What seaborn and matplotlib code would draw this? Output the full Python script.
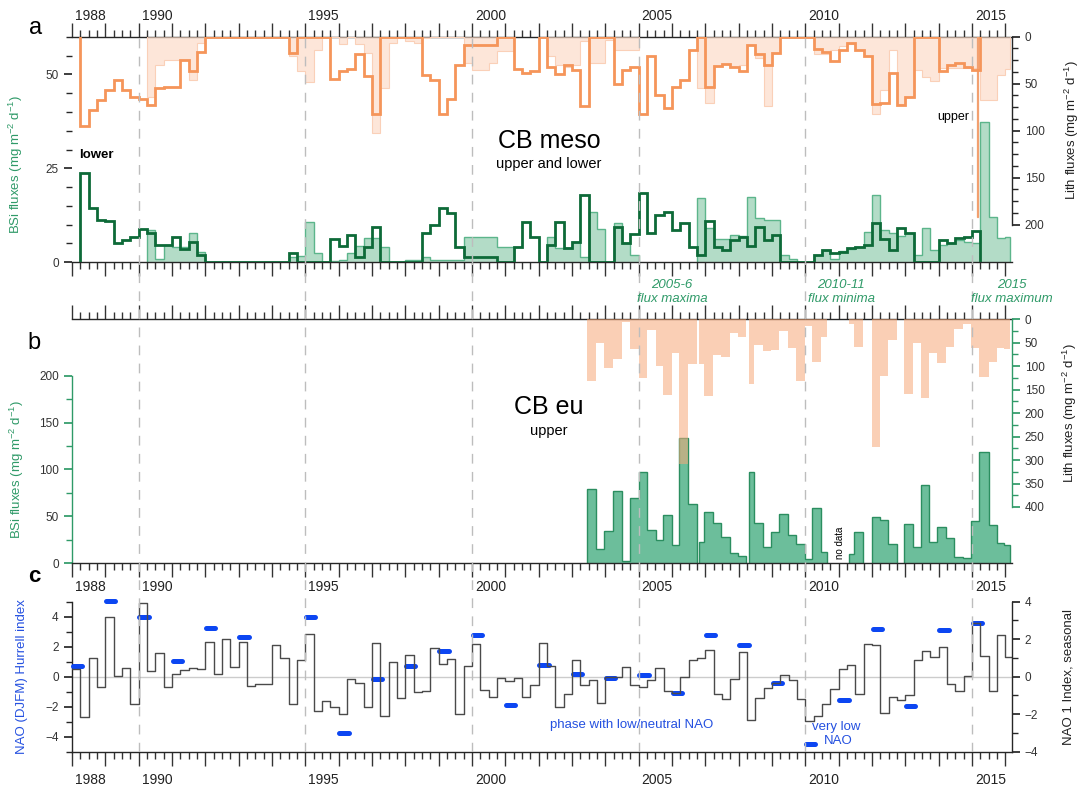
import numpy as np
import matplotlib
matplotlib.use("Agg")
import matplotlib.pyplot as plt
import matplotlib.transforms as mtrans
from matplotlib.ticker import MultipleLocator, NullFormatter, FixedLocator
import seaborn as sns

sns.set_theme(style="ticks")
plt.rcParams["font.family"] = ["Liberation Sans", "DejaVu Sans"]
plt.rcParams["mathtext.fontset"] = "custom"
plt.rcParams["mathtext.rm"] = "Liberation Sans"
plt.rcParams["mathtext.default"] = "regular"
plt.rcParams["axes.linewidth"] = 1.0

nan = np.nan

# ---------------------------------------------------------------- panel a
# quarterly bins 1988.0 ... 2016.0 (+ last partial bin to 2016.15)
a_edges = np.r_[np.arange(1988.0, 2016.01, 0.25), 2016.15]

# lower trap, lithogenic flux (mg m-2 d-1), 0 = gap drawn at baseline
meso_lith_lower = [
    nan, 95, 78, 67,   57, 46, 57, 64,   66, 73, 55, 54,   53, 25, 37, 16,   # 88-91
    0, 0, 0, 0,        0, 0, 0, 0,       0, 0, 17, 0,      0, 0, 0, 45,     # 92-95
    36, 34, 18, 42,    82, 0, 0, 0,      0, 0, 41, 46,     82, 66, 30, 9,   # 96-99
    9, 9, 9, 0,        0, 34, 39, 36,    0, 32, 40, 30,    35, 74, 0, 0,    # 00-03
    0, 50, 35, 32,     82, 21, 62, 76,   54, 46, 14, 0,    54, 31, 29, 32,  # 04-07
    37, 9, 18, 30,     17, 0, 0, 0,      0, 13, 16, 26,    14, 7, 14, 21,   # 08-11
    72, 70, 39, 73,    64, 0, 0, 0,      37, 30, 28, 32,   35, nan, nan, nan,  # 12-15
    nan,
]
# upper trap, lithogenic flux
meso_lith_upper = [
    nan, nan, nan, nan,  nan, nan, nan, nan,  nan, 64, 30, 25,   25, 25, 46, 7,
    nan, nan, nan, nan,  nan, nan, nan, nan,  nan, nan, 20, 37,  48, 14, 0, 0,
    8, 0, 8, 17,         102, 55, 7, nan,     5, 7, 1, 0,        0, 0, 0, 28,
    35, 35, 28, 15,      15, nan, nan, nan,   nan, 20, 30, 32,   30, 5, 28, 28,
    3, 14, 14, 14,       nan, nan, nan, nan,  nan, nan, nan, 55, 71, 31, 29, 32,
    30, 9, 23, 74,       17, 0, 0, nan,       nan, 18, 18, 14,   10, 8, 14, 21,
    82, 57, 14, 72,      64, 35, 43, 47,      33, 33, 33, 33,    33, 67, 67, 41,
    34,
]
# short upper-trap sample early 2015 (very high lith flux)
spike_edges = [2015.14, 2015.17]
spike_lith = [192]

# lower trap, biogenic silica flux
meso_bsi_lower = [
    nan, 23.7, 14.4, 11.3,  11, 5, 6, 6.6,      8.8, 7.7, 4.6, 4.6,  6.6, 3.5, 5.5, 2,
    0, 0, 0, 0,             0, 0, 0, 0,         0, 0, 2.5, 0,        0, 0, 0, 6.2,
    4.3, 7.2, 1.5, 4.2,     9.5, 0, 0, 0,       0, 0, 7.7, 9.9,      14.4, 13, 4.2, 1.5,
    1.5, 1.5, 1.5, 0,       0, 4, 10.8, 6.6,    0, 4.6, 10.8, 3.7,   5.3, 18, 0, 0,
    0, 9.5, 5, 7.5,         18.4, 7.7, 12.6, 13.5,  8.6, 10.5, 4.2, 2,  11, 4.2, 3.3, 5.9,
    6.8, 4.3, 9.5, 5.9,     7.3, 0, 0, 0,       0, 2, 3.3, 2.6,      2.8, 3.7, 4.2, 4.6,
    10.5, 6.1, 3.3, 9,      7.7, 0, 0, 0,       5.9, 5.2, 6.4, 6.6,  8.3, nan, nan, nan,
    nan,
]
# upper trap, biogenic silica flux
meso_bsi_upper = [
    nan, nan, nan, nan,   nan, nan, nan, nan,   nan, 8.6, 1, 4.6,    4.2, 4.2, 7.7, 2.8,
    nan, nan, nan, nan,   nan, nan, nan, nan,   nan, nan, 1.5, 1.7,  10.8, 2.4, 0.2, 0.3,
    0.5, 2.5, 4.3, 6.4,   6.4, 4.2, nan, nan,   0.6, 0.6, 1.5, 0.5,  0.5, 0.5, 0.5, 6.6,
    6.6, 6.6, 6.6, 4.2,   4.2, nan, nan, nan,   nan, 6.8, 3.7, 3.7,  5.5, 1.5, 13.3, 8.8,
    0.2, 10.5, 5, 2,      nan, nan, nan, nan,   nan, nan, nan, 17,   9, 6.1, 6.1, 7.3,
    7, 17.5, 11.7, 11.3,  11.3, 2, 1, nan,      nan, 2, 3.3, 1,      3, 3.5, 4.2, 8,
    17.9, 8.7, 7.7, 7,    7.7, 2, 9.2, 3.2,     4.5, 5, 6, 5.5,      5, 37.4, 12.1, 6.4,
    6.6,
]

# ---------------------------------------------------------------- panel b
eu_edges = [
    2003.46, 2003.72, 2003.97, 2004.22, 2004.49, 2004.74, 2005.01, 2005.26, 2005.51,
    2005.74, 2005.99, 2006.22, 2006.47, 2006.74, 2006.81, 2006.97, 2007.22, 2007.47,
    2007.74, 2007.97, 2008.22, 2008.32, 2008.47, 2008.72, 2008.97, 2009.22, 2009.47,
    2009.72, 2009.98, 2010.21, 2010.46, 2010.66, 2011.32, 2011.47, 2011.74, 2011.99,
    2012.24, 2012.47, 2012.74, 2012.97, 2013.22, 2013.47, 2013.72, 2013.94, 2014.22,
    2014.47, 2014.74, 2014.97, 2015.22, 2015.50, 2015.75, 2015.97, 2016.14,
]
eu_bsi = [
    79, 15, 34, 77, 2, 70, 97, 36, 24.5, 51, 19, 134, 63, nan, 23, 55, 43, 28, 10.6,
    8.2, nan, 97, 43, 17, 33, 53, 30, 21, 4.6, 58.5, 11.7, nan, 9.6, 33, nan, 49,
    46, 20.6, nan, 42, 17.4, 83, 23, 39, 27, 6.4, 5.7, 45, 119, 41, 22, 19,
]
eu_lith = [
    132, 51, 103, 84, 5, 64, 126, 23, 99, 162, 71, 309, 95, nan, 96, 164, 76, 80, 30,
    38.5, nan, 137, 55, 68, 66, 24, 62, 132, 14, 91, 37, nan, 9, 60, nan, 273,
    120, 44, nan, 160, 50, 168, 71, 93, 60, 21, 9, 61, 123, 90, 61, 64,
]

# ---------------------------------------------------------------- panel c
nao_edges = np.arange(1988.0, 2016.26, 0.25)
nao_seasonal = [
    0.43, -2.14, 1.02, -0.53,   3.21, 0.05, 0.48, -1.43,   3.94, 0.32, 1.27, -0.57,
    0.16, 0.37, 0.45, 0.39,     1.84, 0.12, 2.03, 0.50,    1.84, -0.52, -0.39, -0.39,
    1.69, 1.00, -1.48, 0.91,    2.30, -1.84, -1.28, -1.60, -1.98, -0.11, -0.32, -1.60,
    1.80, -2.12, 0.77, -1.14,   1.14, -0.82, -0.75, 1.52,  0.66, 0.96, -2.00, 0.59,
    1.76, -0.70, -1.10, -0.07,  -0.21, -0.05, -1.10, -0.43, 1.80, 0.59, -1.64, -0.90,
    0.87, -0.46, -0.16, -1.41,  -0.02, -0.02, 0.50, -0.46, -0.57, -0.16, 0.46, -0.77,
    -0.86, -0.02, 0.87, 1.02,   1.41, -0.93, -1.19, -0.11, 1.34, -2.30, -1.16, -0.62,
    -0.32, 0.07, -0.16, -1.19,  -2.37, -2.12, -1.44, -0.64, 0.43, 0.62, -0.94, 1.75,
    1.69, -1.93, -1.07, -1.23,  -0.96, 0.89, 1.37, 1.07,   1.57, -0.41, -0.78, 0.02,
    2.85, 1.12, -0.78, 2.23,    1.03,
]
hurrell_years = [1988, 1989, 1990, 1991, 1992, 1993, 1995, 1996, 1997, 1998, 1999,
                 2000, 2001, 2002, 2003, 2004, 2005, 2006, 2007, 2008, 2009, 2010,
                 2011, 2012, 2013, 2014, 2015]
hurrell_djfm = [0.72, 5.08, 3.96, 1.03, 3.28, 2.67, 3.96, -3.78, -0.17, 0.72, 1.70,
                2.80, -1.90, 0.76, 0.20, -0.07, 0.12, -1.09, 2.79, 2.10, -0.41, -4.47,
                -1.57, 3.17, -1.97, 3.10, 3.56]

label_years = [1988, 1990, 1995, 2000, 2005, 2010, 2015]
dash_years = [1990, 1995, 2000, 2005, 2010, 2015]

# ---------------------------------------------------------------- styling
ORANGE = "#F5955A"
PALE_OR = "#FCD9C6"
DKGREEN = "#0D6A38"
LTGREEN = "#B3DCC7"
LTGREEN_EDGE = "#5CB58B"
MIDGREEN = "#6CBE9B"
MIDGREEN_EDGE = "#2B8E60"
LITH_B = "#F7A878"
GREEN_TXT = "#2F9A68"
BLUE = "#2450E0"
DASH_BLUE = "#0C46F2"
TXT = "#222222"

W, H = 1082, 788
XMIN, XMAX = 1988.0, 2016.19


def rect(top, bottom, left=72, right=1011.7):
    return [left / W, 1 - bottom / H, (right - left) / W, (bottom - top) / H]


def runs(vals):
    ok = ~np.isnan(vals)
    i, n = 0, len(vals)
    while i < n:
        if ok[i]:
            j = i
            while j < n and ok[j]:
                j += 1
            yield i, j
            i = j
        else:
            i += 1


def draw_steps(ax, edges, vals, fill=None, line=None, lw=1.0, alpha=1.0, z=2):
    edges = np.asarray(edges, float)
    vals = np.asarray(vals, float)
    for i, j in runs(vals):
        e = edges[i:j + 1]
        v = vals[i:j]
        if fill is not None:
            ax.fill_between(e, np.r_[v, v[-1]], 0, step="post", color=fill,
                            alpha=alpha, lw=0, zorder=z)
        if line is not None:
            ax.plot(np.r_[e[0], e, e[-1]], np.r_[0, v, v[-1], 0],
                    drawstyle="steps-post", color=line, lw=lw, zorder=z + 0.1,
                    solid_joinstyle="miter")


def year_axis(ax, top=False, bottom=True, tick_color="#333333"):
    ax.set_xlim(XMIN, XMAX)
    ax.xaxis.set_major_locator(MultipleLocator(1))
    ax.xaxis.set_minor_locator(MultipleLocator(0.25))
    ax.xaxis.set_major_formatter(NullFormatter())
    ax.tick_params(axis="x", which="both", top=top, bottom=bottom, direction="out",
                   labeltop=False, labelbottom=False, color=tick_color, width=1.0)
    ax.tick_params(axis="x", which="major", length=10)
    ax.tick_params(axis="x", which="minor", length=5)
    ax.spines["top"].set_visible(top)
    ax.spines["bottom"].set_visible(bottom)


def year_labels(ax, ypos):
    tr = mtrans.blended_transform_factory(ax.transData, ax.transAxes)
    for y in label_years:
        ax.text(y + 0.55, ypos, str(y), transform=tr, ha="center", va="center",
                fontsize=10, color=TXT, clip_on=False)


fig = plt.figure(figsize=(W / 100, H / 100), dpi=100)
fig.patch.set_facecolor("white")

ax_a = fig.add_axes(rect(36.7, 262.3))
ax_b = fig.add_axes(rect(319.3, 563.3))
ax_c = fig.add_axes(rect(601.7, 751.7))
ax_a2 = ax_a.twinx()
ax_b2 = ax_b.twinx()
ax_c2 = ax_c.twinx()
for ax in (ax_a, ax_b, ax_c):
    ax.patch.set_alpha(0)

# ---- panel a
year_axis(ax_a, top=True, bottom=True)
ax_a.set_ylim(0, 60)
ax_a.spines["left"].set_visible(False)
ax_a.spines["right"].set_visible(False)
ax_a.yaxis.set_major_locator(FixedLocator([0, 25, 50]))
ax_a.yaxis.set_minor_locator(MultipleLocator(5))
ax_a.tick_params(axis="y", which="major", length=6, labelsize=8.5, labelcolor="#333333")
ax_a.tick_params(axis="y", which="minor", length=4)
ax_a.set_ylabel("BSi fluxes (mg m$^{-2}$ d$^{-1}$)", color=GREEN_TXT, fontsize=9.5)
ax_a.yaxis.set_label_coords(-(72 - 25) / (1011.7 - 72), (262.3 - 165) / 225.6)

draw_steps(ax_a, a_edges, meso_bsi_upper, fill=LTGREEN, line=LTGREEN_EDGE, lw=1.0, z=2)
draw_steps(ax_a, a_edges, meso_bsi_lower, line=DKGREEN, lw=2.0, z=3)

ax_a2.set_ylim(240, 0)
for s in ("top", "bottom", "left"):
    ax_a2.spines[s].set_visible(False)
ax_a2.spines["right"].set_bounds(0, 200)
ax_a2.yaxis.set_major_locator(FixedLocator([0, 50, 100, 150, 200]))
ax_a2.yaxis.set_minor_locator(FixedLocator(np.arange(0, 200.1, 12.5)))
ax_a2.tick_params(axis="y", which="major", length=6, labelsize=8.5, labelcolor="#333333")
ax_a2.tick_params(axis="y", which="minor", length=4)
ax_a2.set_ylabel("Lith fluxes (mg m$^{-2}$ d$^{-1}$)", color=TXT, fontsize=9.5)
ax_a2.yaxis.set_label_coords((1063 - 72) / (1011.7 - 72), (262.3 - 130) / 225.6)

draw_steps(ax_a2, a_edges, meso_lith_upper, fill=PALE_OR, line="#FAD0B8", lw=0.8, alpha=0.65, z=2)
draw_steps(ax_a2, spike_edges, spike_lith, line="#F2A070", lw=0.9, z=2)
draw_steps(ax_a2, a_edges, meso_lith_lower, line=ORANGE, lw=2.0, z=3)

year_labels(ax_a, 1 + (36.7 - 16) / 225.6)

# ---- panel b
year_axis(ax_b, top=True, bottom=True)
ax_b.set_ylim(0, 260)
ax_b.spines["right"].set_visible(False)
ax_b.spines["left"].set_bounds(0, 200)
ax_b.spines["left"].set_color(GREEN_TXT)
ax_b.yaxis.set_major_locator(FixedLocator([0, 50, 100, 150, 200]))
ax_b.yaxis.set_minor_locator(FixedLocator([25, 75, 125, 175]))
ax_b.tick_params(axis="y", which="major", length=6, color=GREEN_TXT, labelsize=8.5,
                 labelcolor="#333333")
ax_b.tick_params(axis="y", which="minor", length=4, color=GREEN_TXT)
ax_b.set_ylabel("BSi fluxes (mg m$^{-2}$ d$^{-1}$)", color=GREEN_TXT, fontsize=9.5)
ax_b.yaxis.set_label_coords(-(72 - 26) / (1011.7 - 72), (563.3 - 470) / 244)

draw_steps(ax_b, eu_edges, eu_bsi, fill=MIDGREEN, line=MIDGREEN_EDGE, lw=1.0, z=2)

ax_b2.set_ylim(520, 0)
for s in ("top", "bottom", "left"):
    ax_b2.spines[s].set_visible(False)
ax_b2.spines["right"].set_bounds(0, 400)
ax_b2.spines["right"].set_color(GREEN_TXT)
ax_b2.yaxis.set_major_locator(FixedLocator(np.arange(0, 401, 50)))
ax_b2.yaxis.set_minor_locator(FixedLocator(np.arange(25, 400, 50)))
ax_b2.tick_params(axis="y", which="major", length=6, color=GREEN_TXT, labelsize=8.5,
                  labelcolor="#333333")
ax_b2.tick_params(axis="y", which="minor", length=4, color=GREEN_TXT)
ax_b2.set_ylabel("Lith fluxes (mg m$^{-2}$ d$^{-1}$)", color=TXT, fontsize=9.5)
ax_b2.yaxis.set_label_coords((1061 - 72) / (1011.7 - 72), (563.3 - 413) / 244)

draw_steps(ax_b2, eu_edges, eu_lith, fill=LITH_B, alpha=0.55, z=2)

# ---- panel c
year_axis(ax_c, top=False, bottom=True)
ax_c.set_ylim(-5, 5)
ax_c.spines["right"].set_visible(False)
ax_c.yaxis.set_major_locator(FixedLocator([-4, -2, 0, 2, 4]))
ax_c.yaxis.set_minor_locator(MultipleLocator(1))
ax_c.tick_params(axis="y", which="major", length=6, labelsize=8.5, labelcolor="#333333")
ax_c.tick_params(axis="y", which="minor", length=4)
ax_c.set_ylabel("NAO (DJFM) Hurrell index", color=BLUE, fontsize=9.5)
ax_c.yaxis.set_label_coords(-(72 - 28) / (1011.7 - 72), 0.5)
ax_c.axhline(0, color="#cccccc", lw=1.0, zorder=0)

ax_c2.set_ylim(-4, 4)
for s in ("top", "bottom", "left"):
    ax_c2.spines[s].set_visible(False)
ax_c2.yaxis.set_major_locator(FixedLocator([-4, -2, 0, 2, 4]))
ax_c2.yaxis.set_minor_locator(MultipleLocator(1))
ax_c2.tick_params(axis="y", which="major", length=6, labelsize=8.5, labelcolor="#333333")
ax_c2.tick_params(axis="y", which="minor", length=4)
ax_c2.set_ylabel("NAO 1 Index, seasonal", color=TXT, fontsize=9.5)
ax_c2.yaxis.set_label_coords((1063 - 72) / (1011.7 - 72), 0.5)

sns.lineplot(x=nao_edges, y=np.r_[nao_seasonal, nao_seasonal[-1]], ax=ax_c2,
             drawstyle="steps-post", color="#4a4a4a", lw=1.0, estimator=None,
             sort=False, legend=False)
hl = ax_c.hlines(hurrell_djfm, np.asarray(hurrell_years) + 0.02,
                 np.asarray(hurrell_years) + 0.30, color=DASH_BLUE, lw=3.6, zorder=5,
                 clip_on=False)
hl.set_capstyle("round")

year_labels(ax_c, 1 + (601.7 - 587) / 150)
year_labels(ax_c, -(780 - 751.7) / 150)

# ---- dashed year markers spanning all panels
ov = fig.add_axes(rect(36.7, 751.7))
ov.set_xlim(XMIN, XMAX)
ov.axis("off")
for y in dash_years:
    ov.axvline(y, color="#bdbdbd", lw=1.0, ls=(0, (7, 6)), zorder=0)

# ---- annotations
def ftext(x, y, s, **kw):
    fig.text(x / W, 1 - y / H, s, **kw)

ftext(36, 28, "a", fontsize=17, ha="center", va="center", color="black")
ftext(34, 343, "b", fontsize=17, ha="center", va="center", color="black")
ftext(34, 576, "c", fontsize=16, ha="center", va="center", color="black", fontweight="bold")

ftext(549, 141, "CB meso", fontsize=18, ha="center", va="center", color="black")
ftext(549, 164, "upper and lower", fontsize=10.5, ha="center", va="center", color="black")
ftext(96, 155, "lower", fontsize=9.5, ha="center", va="center", fontweight="bold", color="black")
ftext(953, 117, "upper", fontsize=9, ha="center", va="center", color="black")

ftext(549, 407, "CB eu", fontsize=18, ha="center", va="center", color="black")
ftext(549, 431, "upper", fontsize=10.5, ha="center", va="center", color="black")
ftext(840, 543, "no data", fontsize=7, ha="center", va="center", rotation=90, color="black")

for xc, l1, l2 in ((672, "2005-6", "flux maxima"), (841, "2010-11", "flux minima"),
                   (1012, "2015", "flux maximum")):
    ftext(xc, 285, l1, fontsize=9.5, ha="center", va="center", style="italic", color=GREEN_TXT)
    ftext(xc, 299, l2, fontsize=9.5, ha="center", va="center", style="italic", color=GREEN_TXT)

ftext(632, 725, "phase with low/neutral NAO", fontsize=9.5, ha="center", va="center", color=BLUE)
ftext(836, 727, "very low", fontsize=9.5, ha="center", va="center", color=BLUE)
ftext(838, 741, "NAO", fontsize=9.5, ha="center", va="center", color=BLUE)

fig.savefig("out.png", dpi=100, facecolor="white")
plt.close(fig)
